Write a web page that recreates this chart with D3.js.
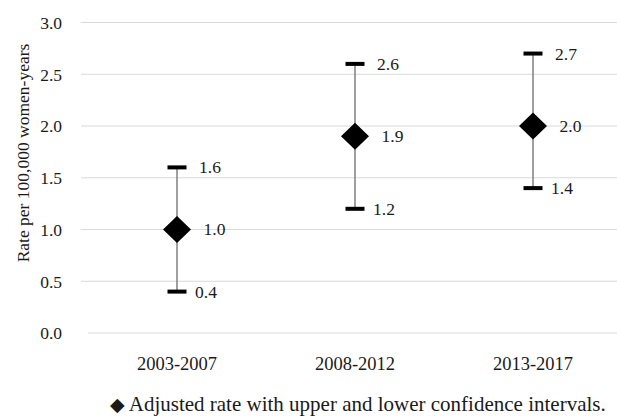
<!DOCTYPE html>
<html>
<head>
<meta charset="utf-8">
<script src="https://cdn.jsdelivr.net/npm/d3@7/dist/d3.min.js"></script>
<style>
  html, body { margin: 0; padding: 0; background: #fff; }
  svg { display: block; }
</style>
</head>
<body>
<svg id="chart" width="617" height="419"></svg>
<script>
// Adjusted incidence rate per period with confidence interval bounds
const periods = ["2003-2007", "2008-2012", "2013-2017"];
const rates = [1.0, 1.9, 2.0];
const upperCI = [1.6, 2.6, 2.7];
const lowerCI = [0.4, 1.2, 1.4];
const yTicks = [0.0, 0.5, 1.0, 1.5, 2.0, 2.5, 3.0];

const SERIF = "'Liberation Serif', 'Times New Roman', serif";
const INK = "#1a1a1a";

const svg = d3.select("#chart");
const W = 617, H = 419;

const x = d3.scaleBand().domain(periods).range([88, 622]).padding(0);
const y = d3.scaleLinear().domain([0, 3]).range([333, 22.5]);
const cx = p => x(p) + x.bandwidth() / 2;
const fmt = d3.format(".1f");

// horizontal gridlines
svg.append("g").selectAll("line").data(yTicks).join("line")
  .attr("x1", d => d === 0 ? 88 : 81).attr("x2", W)
  .attr("y1", d => y(d)).attr("y2", d => y(d))
  .attr("stroke", "#d9d9d9").attr("stroke-width", 1);

// y axis tick labels
const yAxis = d3.axisLeft(y).tickValues(yTicks).tickFormat(fmt).tickSize(0).tickPadding(0);
const gy = svg.append("g").attr("transform", "translate(62,0)").call(yAxis);
gy.select(".domain").remove();
gy.selectAll("text")
  .style("font-family", SERIF).style("font-size", "17.5px").style("fill", INK)
  .attr("dy", "0.34em");

// x axis category labels
const xAxis = d3.axisBottom(x).tickSize(0).tickPadding(0);
const gx = svg.append("g").attr("transform", "translate(0,370)").call(xAxis);
gx.select(".domain").remove();
gx.selectAll("text")
  .style("font-family", SERIF).style("font-size", "18.5px").style("fill", INK)
  .attr("dy", 0).attr("y", 0);

// y axis title
svg.append("text")
  .attr("transform", "translate(29,153) rotate(-90)")
  .attr("text-anchor", "middle")
  .style("font-family", SERIF).style("font-size", "17.5px").style("fill", INK)
  .text("Rate per 100,000 women-years");

const rows = periods.map((p, i) => ({ p, r: rates[i], hi: upperCI[i], lo: lowerCI[i] }));

// confidence interval whiskers
svg.append("g").selectAll("line").data(rows).join("line")
  .attr("x1", d => cx(d.p)).attr("x2", d => cx(d.p))
  .attr("y1", d => y(d.hi)).attr("y2", d => y(d.lo))
  .attr("stroke", "#7f7f7f").attr("stroke-width", 1.5);

// caps for upper and lower bounds
const caps = rows.flatMap(d => [{ p: d.p, v: d.hi, kind: "hi" }, { p: d.p, v: d.lo, kind: "lo" }]);
svg.append("g").selectAll("rect").data(caps).join("rect")
  .attr("x", d => cx(d.p) - 9.5).attr("y", d => y(d.v) - 2)
  .attr("width", 19).attr("height", 4).attr("fill", "#000");

// diamond markers for adjusted rate
svg.append("g").selectAll("path").data(rows).join("path")
  .attr("d", d => {
    const px = cx(d.p), py = y(d.r);
    return `M${px},${py - 13.5}L${px + 14},${py}L${px},${py + 13.5}L${px - 14},${py}Z`;
  })
  .attr("fill", "#000");

// value labels
const labels = [
  ...rows.map(d => ({ p: d.p, v: d.r, off: 26.5 })),
  ...caps.map(d => ({ p: d.p, v: d.v, off: d.kind === "hi" ? 22 : 18 }))
];
svg.append("g").selectAll("text").data(labels).join("text")
  .attr("x", d => cx(d.p) + d.off).attr("y", d => y(d.v))
  .attr("dy", "0.34em")
  .style("font-family", SERIF).style("font-size", "17.5px").style("fill", INK)
  .text(d => fmt(d.v));

// legend
const leg = svg.append("text").attr("x", 110).attr("y", 411)
  .style("font-family", SERIF).style("font-size", "21px").style("fill", INK);
leg.append("tspan").style("font-family", "'DejaVu Sans', sans-serif").style("font-size", "19px").text("◆");
leg.append("tspan").text(" Adjusted rate with upper and lower confidence intervals.");
</script>
</body>
</html>
